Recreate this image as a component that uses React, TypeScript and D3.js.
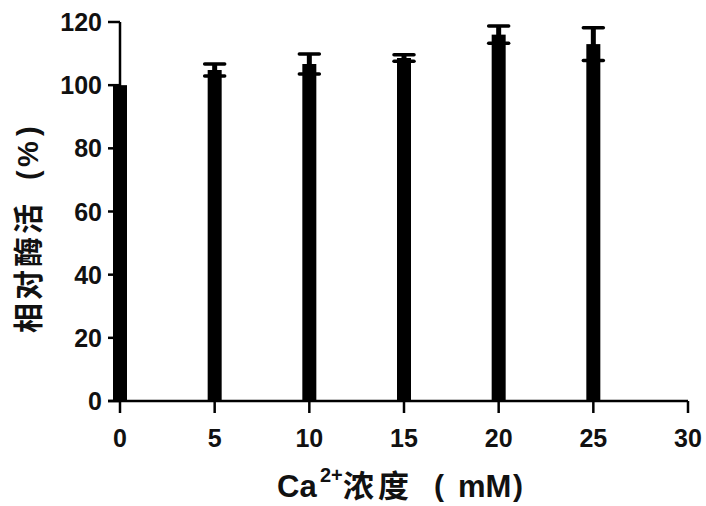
import React from "react";
import * as d3 from "d3";

// Ca2+ concentration (mM) vs relative activity (%)
const concentrations = [0, 5, 10, 15, 20, 25];
const meanActivity = [100, 104.8, 106.7, 108.6, 116, 113];
const sdActivity = [0, 1.9, 3.2, 1.0, 2.7, 5.2];
const xTicks = [0, 5, 10, 15, 20, 25, 30];
const yTicks = [0, 20, 40, 60, 80, 100, 120];

const W = 706;
const H = 506;
const latin = "'Liberation Sans', Arial, sans-serif";
const cjk = "'Noto Sans CJK SC', sans-serif";

const App = () => {
  const x = d3.scaleLinear().domain([0, 30]).range([120, 688]);
  const y = d3.scaleLinear().domain([0, 120]).range([401, 22]);
  const barW = 14;
  const capW = 20;

  return (
    <svg
      width={W}
      height={H}
      style={{ position: "absolute", left: 0, top: 0, background: "#fff" }}
      fontFamily={latin}
      fontWeight="bold"
    >
      {/* bars */}
      {concentrations.map((c, i) => (
        <rect
          key={"b" + c}
          x={x(c) - barW / 2}
          y={y(meanActivity[i])}
          width={barW}
          height={y(0) - y(meanActivity[i])}
          fill="#000"
        />
      ))}

      {/* error bars */}
      {concentrations.map((c, i) => {
        if (!sdActivity[i]) return null;
        const hi = y(meanActivity[i] + sdActivity[i]);
        const lo = y(meanActivity[i] - sdActivity[i]);
        return (
          <g key={"e" + c} stroke="#000" strokeWidth={3.5}>
            <line x1={x(c)} x2={x(c)} y1={hi} y2={lo} strokeWidth={5} />
            <line x1={x(c) - capW / 2} x2={x(c) + capW / 2} y1={hi} y2={hi} strokeLinecap="round" />
            <line x1={x(c) - capW / 2} x2={x(c) + capW / 2} y1={lo} y2={lo} strokeLinecap="round" />
          </g>
        );
      })}

      {/* y axis */}
      <line x1={x(0)} x2={x(0)} y1={y(120)} y2={y(0)} stroke="#000" strokeWidth={2.5} />
      {yTicks.map(t => (
        <g key={"yt" + t}>
          <line x1={x(0) - 12} x2={x(0)} y1={y(t)} y2={y(t)} stroke="#000" strokeWidth={2.5} />
          <text x={x(0) - 18} y={y(t)} dy="0.36em" textAnchor="end" fontSize={25} fill="#111">
            {t}
          </text>
        </g>
      ))}

      {/* x axis */}
      <line x1={x(0) - 12} x2={x(30)} y1={y(0)} y2={y(0)} stroke="#000" strokeWidth={2.5} />
      {xTicks.map(t => (
        <g key={"xt" + t}>
          <line x1={x(t)} x2={x(t)} y1={y(0)} y2={y(0) + 12} stroke="#000" strokeWidth={2.5} />
          <text x={x(t)} y={y(0) + 37} dy="0.36em" textAnchor="middle" fontSize={25} fill="#111">
            {t}
          </text>
        </g>
      ))}

      {/* y axis title */}
      <g transform="translate(39,333) rotate(-90)" fill="#111">
        <text x={0} y={0} fontSize={30} fontFamily={cjk} letterSpacing={3}>
          相对酶活
        </text>
        <text x={153} y={-1} fontSize={29}>(</text>
        <text x={166} y={-1} fontSize={29}>%</text>
        <text x={197} y={-1} fontSize={29}>)</text>
      </g>

      {/* x axis title */}
      <g fill="#111">
        <text x={277} y={497} fontSize={31}>Ca</text>
        <text x={320} y={482} fontSize={20}>2+</text>
        <text x={343} y={497} fontSize={31} fontFamily={cjk} letterSpacing={4}>
          浓度
        </text>
        <text x={434} y={496} fontSize={30}>(</text>
        <text x={458} y={497} fontSize={31}>mM</text>
        <text x={513} y={496} fontSize={30}>)</text>
      </g>
    </svg>
  );
};

export default App;
